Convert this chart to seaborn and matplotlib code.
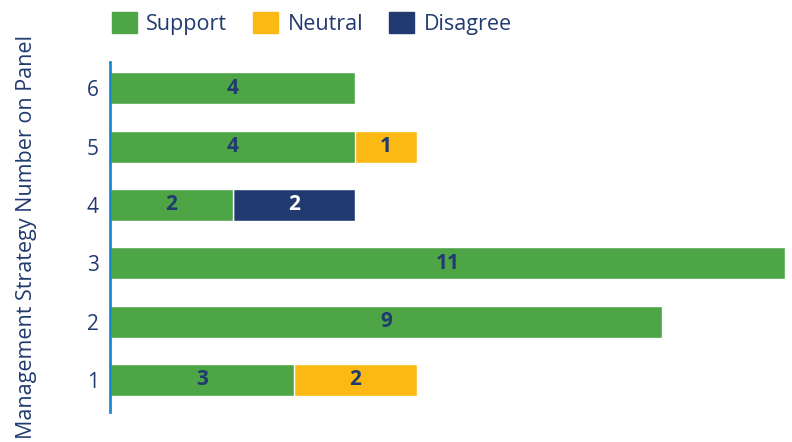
import matplotlib
matplotlib.use("Agg")
import matplotlib.pyplot as plt
import matplotlib.patches as mpatches
import seaborn as sns
import pandas as pd
import numpy as np

categories = ["6", "5", "4", "3", "2", "1"]
support = [4, 4, 2, 11, 9, 3]
neutral = [0, 1, 0, 0, 0, 2]
disagree = [0, 0, 2, 0, 0, 0]
series_names = ["Support", "Neutral", "Disagree"]
colors = ["#4EA546", "#FDB913", "#213A6F"]
text_color = "#213A6F"

sns.set_theme(style="white")
plt.rcParams["font.family"] = ["Open Sans", "DejaVu Sans"]

df = pd.DataFrame({"cat": categories, "Support": support,
                   "Neutral": neutral, "Disagree": disagree})
df["c1"] = df["Support"]
df["c2"] = df["Support"] + df["Neutral"]
df["c3"] = df["c2"] + df["Disagree"]

fig = plt.figure(figsize=(7.92, 4.42), dpi=100)
ax = fig.add_axes([110/792, 1-412/442, (785-110)/792, (412-62)/442])

for col, color in zip(["c3", "c2", "c1"], colors[::-1]):
    sns.barplot(data=df, y="cat", x=col, order=categories, color=color,
                orient="h", width=0.55, edgecolor="white", linewidth=1,
                saturation=1, ax=ax)

# value labels
for i, row in df.iterrows():
    starts = [0, row["c1"], row["c2"]]
    vals = [row["Support"], row["Neutral"], row["Disagree"]]
    for k, (s, v) in enumerate(zip(starts, vals)):
        if v > 0:
            ax.text(s + v/2, i, str(v), ha="center", va="center",
                    fontsize=15, fontweight="bold",
                    color="white" if k == 2 else text_color)

ax.set_xlim(0, 11)
ax.set_ylim(5.55, -0.45)
ax.set_xlabel("")
ax.set_ylabel("Management Strategy Number on Panel", fontsize=15.5,
              color=text_color, labelpad=36)
ax.set_xticks([])
ax.tick_params(axis="y", length=0, labelsize=15, labelcolor=text_color, pad=8)
for s in ["top", "right", "bottom"]:
    ax.spines[s].set_visible(False)
ax.spines["left"].set_color("#1B8BD1")
ax.spines["left"].set_linewidth(2)

handles = [mpatches.Patch(color=c, label=n) for c, n in zip(colors, series_names)]
leg = fig.legend(handles=handles, loc="upper left", bbox_to_anchor=(100/792, 1.0),
                 ncol=3, frameon=False, fontsize=15.5, handlelength=1.15,
                 handleheight=1.15, handletextpad=0.45, columnspacing=1.2,
                 borderaxespad=0.15)
for t in leg.get_texts():
    t.set_color(text_color)

fig.savefig("out.png", dpi=100)
